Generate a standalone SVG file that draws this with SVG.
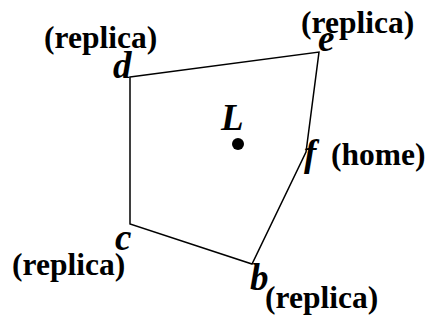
<svg xmlns="http://www.w3.org/2000/svg" width="428" height="324" viewBox="0 0 428 324">
<style>
.lbl{font-family:"Liberation Serif","Times New Roman",serif;font-weight:bold;font-size:31.5px;fill:#000}
.v{font-family:"Liberation Serif","Times New Roman",serif;font-weight:bold;font-style:italic;font-size:37px;fill:#000}
.edge{fill:none;stroke:#000;stroke-width:1.5;stroke-linejoin:miter}
</style>
<rect width="428" height="324" fill="#fff"/>
<g id="connectors">
<polygon class="edge" points="130,77 319,52 306,152 252,264 130,224"/>
</g>
<g id="node-d"><text class="lbl" x="44" y="48">(replica)</text><text class="v" x="113" y="78">d</text></g>
<g id="node-e"><text class="lbl" x="301" y="33">(replica)</text><text class="v" x="318" y="51">e</text></g>
<g id="node-f"><text class="v" x="304" y="166">f</text><text class="lbl" x="331" y="165">(home)</text></g>
<g id="node-b"><text class="v" x="250" y="290">b</text><text class="lbl" x="265" y="308">(replica)</text></g>
<g id="node-c"><text class="v" x="115" y="250">c</text><text class="lbl" x="12" y="275">(replica)</text></g>
<g id="node-L"><text class="v" x="221" y="130">L</text><circle cx="238" cy="144" r="6" fill="#000"/></g>
</svg>
